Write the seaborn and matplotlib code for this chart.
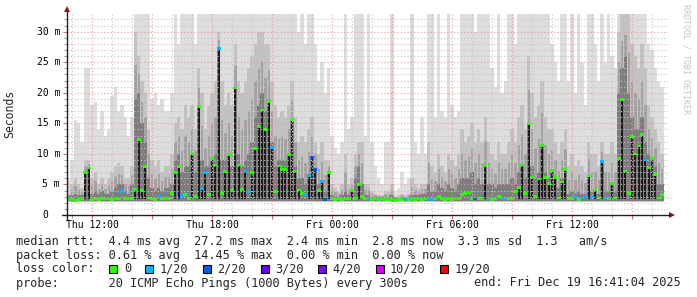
import numpy as np
import pandas as pd
import matplotlib
matplotlib.use("Agg")
import matplotlib.pyplot as plt
from matplotlib.lines import Line2D
from matplotlib.patches import Rectangle, Polygon
from matplotlib.path import Path
import seaborn as sns

# ---------------- data (10-minute samples starting Thu 10:45) ----------------
med = [
    2.5, 2.6, 2.4, 2.5, 2.6, 6.9,
    7.7, 2.5, 2.6, 2.5, 2.7, 2.6,
    2.6, 2.5, 2.7, 2.6, 3.8, 2.7,
    2.6, 2.7, 4.2, 12.4, 4.0, 7.9,
    2.8, 2.6, 2.5, 3.1, 2.6, 2.7,
    2.6, 3.5, 7.0, 7.9, 3.2, 3.4,
    2.7, 10.0, 3.0, 17.7, 4.3, 6.9,
    3.4, 9.3, 8.2, 27.3, 3.5, 7.1,
    9.9, 4.0, 20.8, 8.2, 4.2, 7.2,
    3.9, 7.0, 10.9, 14.5, 17.2, 14.0,
    18.6, 11.0, 3.9, 8.0, 7.5, 7.5,
    9.9, 15.6, 7.2, 4.1, 3.5, 3.3,
    6.5, 9.4, 7.5, 4.0, 5.5, 2.5,
    7.0, 2.6, 2.5, 2.6, 2.5, 2.6,
    2.6, 4.0, 2.7, 5.0, 3.0, 2.6,
    2.6, 2.5, 2.6, 2.5, 2.6, 2.5,
    2.5, 2.6, 2.4, 2.5, 2.5, 2.6,
    2.5, 2.6, 2.5, 2.6, 2.5, 2.6,
    2.6, 2.5, 2.6, 3.0, 2.6, 2.5,
    2.6, 2.5, 2.6, 2.7, 3.4, 3.5,
    3.6, 2.6, 2.6, 2.7, 2.6, 8.1,
    2.6, 2.5, 2.6, 3.0, 2.6, 2.6,
    2.7, 2.6, 3.8, 4.5, 8.2, 3.5,
    14.9, 6.2, 3.0, 5.9, 11.4, 6.1,
    5.1, 7.3, 6.1, 2.8, 5.4, 7.5,
    2.7, 2.6, 3.0, 2.5, 2.8, 3.0,
    6.4, 3.0, 4.1, 2.8, 8.7, 2.8,
    2.6, 5.1, 2.8, 9.2, 18.9, 7.2,
    3.5, 12.9, 10.0, 11.3, 13.2, 9.0,
    7.7, 9.2, 6.6, 2.8, 3.4,
]
smoke_top = [
    6, 9, 15.5, 15, 12, 24,
    24, 18, 18.5, 14, 17, 13,
    14, 19.5, 21, 17, 18, 16,
    13, 16, 33, 33, 33, 33,
    33, 19, 20, 18, 19, 17,
    17, 20, 33, 28, 33, 33,
    33, 33, 28, 33, 33, 33,
    33, 33, 33, 33, 33, 33,
    33, 33, 33, 33, 33, 33,
    33, 33, 33, 33, 33, 33,
    33, 33, 33, 33, 33, 33,
    33, 33, 33, 30, 33, 28,
    33, 33, 28, 22, 25, 20,
    24, 13, 11, 10, 12, 33,
    14, 16, 33, 33, 33, 13,
    33, 12, 8, 6, 5, 12,
    12, 33, 4, 4.5, 7, 5,
    6, 33, 12, 10, 16, 10,
    33, 33, 16, 33, 17, 16,
    33, 18, 16, 17, 33, 33,
    33, 33, 30, 33, 33, 33,
    33, 24, 21, 33, 20, 22,
    33, 33, 28, 33, 33, 33,
    33, 33, 33, 33, 33, 33,
    33, 28, 25, 22, 33, 33,
    22, 33, 20, 33, 25, 18,
    33, 33, 28, 22, 33, 25,
    33, 26, 24, 33, 33, 33,
    33, 33, 33, 33, 33, 33,
    28, 27, 24, 22, 21,
]
smoke_mid = [
    3.5, 5, 6, 5, 4.5, 9,
    9, 6, 7, 5, 6, 5,
    6, 7, 8, 8.5, 8, 6,
    6, 8, 30, 26, 22, 20,
    14, 9, 8, 9, 7, 8,
    8, 10, 15, 16, 14, 18,
    16, 18, 14, 24, 20, 14,
    18, 20, 22, 30, 22, 18,
    20, 18, 28, 22, 20, 22,
    24, 26, 28, 30, 30, 28,
    28, 22, 18, 16, 17, 16,
    18, 22, 16, 12, 13, 12,
    14, 16, 12, 10, 12, 9,
    9, 5, 4.5, 4, 5, 10,
    5, 6, 10, 12, 12, 5,
    5, 4, 3.5, 3.2, 3.2, 4,
    4, 5, 3, 3.2, 3.5, 3.2,
    3.5, 6, 5, 4.5, 5, 5,
    12, 8, 7, 10, 8, 7,
    10, 9, 8, 10, 14, 12,
    13, 15, 12, 14, 12, 16,
    12, 10, 9, 12, 10, 10,
    12, 14, 12, 16, 18, 14,
    26, 20, 16, 18, 22, 16,
    14, 14, 12, 10, 12, 14,
    8, 10, 8, 9, 8, 7,
    12, 10, 10, 8, 12, 10,
    10, 12, 10, 30, 33, 33,
    33, 28, 26, 24, 28, 24,
    18, 16, 14, 12, 10,
]
smoke_dark = [
    3, 3.2, 3.5, 3.3, 3.2, 7,
    7.7, 3.5, 4, 3.5, 4, 3.5,
    3.5, 4, 4.5, 5, 5, 4,
    3.5, 5, 19, 20, 15, 12,
    6, 4.5, 4, 4.5, 4, 4.5,
    4.5, 5, 9, 10, 7, 8,
    8, 10, 7, 17.7, 9, 8,
    8, 9.3, 10, 27.3, 9, 9,
    10, 8, 20.8, 10, 8, 9,
    10, 12, 16, 18, 20, 17,
    19, 12, 8, 9, 9, 9,
    10, 15.6, 8, 6, 6, 5,
    6.5, 9.4, 7.5, 5, 5.5, 4,
    7, 3.2, 3, 3, 3.2, 4,
    3.2, 4, 6, 8, 5, 3.2,
    3.2, 3, 3, 2.9, 2.9, 3,
    3, 3.2, 2.8, 2.8, 2.9, 2.8,
    2.9, 3.2, 3.2, 3.2, 3.5, 3.5,
    5, 4, 4, 5, 4.5, 4,
    5, 4.5, 4, 5, 6, 6,
    6, 7, 5, 6, 5, 8.1,
    5, 5, 4.5, 5, 5, 5,
    5, 6, 5, 7, 8.2, 6,
    14.9, 8, 6, 7, 11.4, 7,
    6, 7.3, 6.1, 4.5, 6, 7.5,
    3.5, 4, 3.5, 4, 3.5, 3.5,
    6.4, 4, 4.1, 3.5, 8.7, 4,
    4, 5.1, 4, 20, 24, 26,
    20, 16, 14, 14, 16, 12,
    10, 9.2, 8, 5, 5,
]
# sample indices with 1/20 and 2/20 packet loss
loss_1_of_20 = [16, 27, 34, 40, 41, 45, 53, 54, 61, 71, 72, 76, 90, 101, 108, 109,
                126, 130, 131, 152, 154, 155, 157, 160, 161, 173]
loss_2_of_20 = [73, 74, 77, 122]
smoke_floor = 2.05
dark_floor = 2.3

x_tick_labels = ["Thu 12:00", "Thu 18:00", "Fri 00:00", "Fri 06:00", "Fri 12:00"]
y_tick_values = [0, 5, 10, 15, 20, 25, 30]
y_tick_labels = ["0", "5 m", "10 m", "15 m", "20 m", "25 m", "30 m"]
legend_labels = ["0", "1/20", "2/20", "3/20", "4/20", "10/20", "19/20"]
legend_colors = ["#26ff00", "#00b8ff", "#0059ff", "#5e00ff", "#7e00ff", "#dd00ff", "#ff0000"]
row_median = "median rtt:  4.4 ms avg  27.2 ms max  2.4 ms min  2.8 ms now  3.3 ms sd  1.3   am/s"
row_loss = "packet loss: 0.61 % avg  14.45 % max  0.00 % min  0.00 % now"
row_probe = "probe:       20 ICMP Echo Pings (1000 Bytes) every 300s"
row_end = "end: Fri Dec 19 16:41:04 2025"

# ---------------- figure ----------------
sns.set_theme(style="white")
plt.rcParams['font.family'] = ['DejaVu Sans Mono']

W, H = 697, 297
fig = plt.figure(figsize=(W / 100, H / 100), dpi=100)
fig.patch.set_facecolor("white")

def fx(px):
    return px / W

def fy(py):
    return 1 - py / H

PX0, PX1, PY0, PY1 = 67, 668, 14, 215
PX_PER_H = 20.0
PX_PER_MS = 6.11
ax = fig.add_axes([fx(PX0), fy(PY1), (PX1 - PX0) / W, (PY1 - PY0) / H])
ax.set_facecolor("white")
xmax = (PX1 - PX0) / PX_PER_H
ymax = (PY1 - PY0) / PX_PER_MS
ax.set_xlim(0, xmax)
ax.set_ylim(0, ymax)
for s in ax.spines.values():
    s.set_visible(False)

n = len(med)
assert len(smoke_top) == n and len(smoke_mid) == n and len(smoke_dark) == n
t = np.arange(n) / 6.0 + 1 / 12.0
w = 1 / 6.0
med_a = np.array(med)
top_a = np.array(smoke_top)
mid_a = np.array(smoke_mid)
dark_a = np.array(smoke_dark)

ax.bar(t, top_a - smoke_floor, width=w, bottom=smoke_floor, color="#dddddd",
       linewidth=0, antialiased=False, zorder=1)
ax.bar(t, mid_a - smoke_floor, width=w, bottom=smoke_floor, color="#c2c2c2",
       linewidth=0, antialiased=False, zorder=1.1)
ax.bar(t, (mid_a + dark_a) / 2 - dark_floor, width=w * 0.7, bottom=dark_floor, color="#a2a2a2",
       linewidth=0, antialiased=False, zorder=1.15)
ax.bar(t, dark_a - dark_floor, width=w, bottom=dark_floor, color="#7e7e7e",
       linewidth=0, antialiased=False, zorder=1.2)
spike = med_a >= 4.0
ax.bar(t[spike], med_a[spike] - 2.6, width=w * 0.65, bottom=2.6, color="#1c1c1c",
       linewidth=0, antialiased=False, zorder=1.3)

# grid (drawn over the smoke, as RRDtool does)
for v in range(1, int(ymax) + 1):
    major = v % 5 == 0
    ax.axhline(v, color="#e89a9a" if major else "#c4c4c4", lw=0.8,
               ls=(0, (1, 2)), zorder=3)
for k in range(0, 31):
    h = 0.25 + k
    if h >= xmax:
        break
    major = (k - 1) % 3 == 0
    ax.axvline(h, color="#e89a9a" if major else "#c4c4c4", lw=0.8,
               ls=(0, (1, 2)), zorder=3)

# median rtt markers coloured by loss
loss_lab = np.array(["0"] * n, dtype=object)
loss_lab[loss_1_of_20] = "1/20"
loss_lab[loss_2_of_20] = "2/20"
df = pd.DataFrame({"t": t, "median": med_a, "loss": loss_lab})
rect = Path([(-1, -0.75), (1, -0.75), (1, 0.75), (-1, 0.75), (-1, -0.75)])
sns.scatterplot(data=df, x="t", y="median", hue="loss",
                palette=dict(zip(legend_labels, legend_colors)),
                marker=rect, s=7.0, linewidth=0, legend=False, ax=ax, zorder=4)
ax.set_xlabel("")
ax.set_ylabel("")

# ticks
ax.set_xticks([1.25 + 3 * k for k in range(10) if 1.25 + 3 * k < xmax])
ax.set_xticks([0.25 + k for k in range(30) if 0.25 + k < xmax], minor=True)
ax.set_yticks(y_tick_values)
ax.set_yticks(range(0, int(ymax) + 1), minor=True)
ax.tick_params(axis="both", which="major", length=3, width=0.8, color="#d07070",
               labelbottom=False, labelleft=False, direction="out", bottom=True, left=True)
ax.tick_params(axis="both", which="minor", length=2, width=0.8, color="#a0a0a0",
               direction="out", bottom=True, left=True)

# axis lines with arrows
axis_col = "#202020"
arrow_col = "#8b1a1a"
fig.add_artist(Line2D([fx(62), fx(670)], [fy(215), fy(215)], color=axis_col, lw=1.0))
fig.add_artist(Line2D([fx(67), fx(67)], [fy(220), fy(11)], color=axis_col, lw=1.0))
fig.add_artist(Polygon([(fx(669), fy(212)), (fx(675), fy(215)), (fx(669), fy(218))],
                       closed=True, color=arrow_col, lw=0))
fig.add_artist(Polygon([(fx(64), fy(12)), (fx(67), fy(6)), (fx(70), fy(12))],
                       closed=True, color=arrow_col, lw=0))

# tick labels
for k, lab in enumerate(x_tick_labels):
    px = PX0 + (1.25 + 6 * k) * PX_PER_H
    fig.text(fx(px), fy(225), lab, ha="center", va="center", fontsize=7, color="#000000")
cw7 = 7 * 100 / 72 * 0.6021
for v, lab in zip(y_tick_values, y_tick_labels):
    py = PY1 - v * PX_PER_MS
    xr = 60 if v != 0 else 60 - 2 * cw7
    fig.text(fx(xr), fy(py), lab, ha="right", va="center", fontsize=7, color="#000000")

fig.text(fx(10), fy(114), "Seconds", rotation=90, ha="center", va="center", fontsize=8.3)
fig.text(fx(686), fy(4), "RRDTOOL / TOBI OETIKER", rotation=270, ha="center", va="top",
         fontsize=6, color="#c4c4c4")

# legend rows
FS = 8.6
cw = FS * 100 / 72 * 0.6021
LX = 16
fig.text(fx(LX), fy(241), row_median, ha="left", va="center", fontsize=FS)
fig.text(fx(LX), fy(255), row_loss, ha="left", va="center", fontsize=FS)
fig.text(fx(LX), fy(269), "loss color:", ha="left", va="center", fontsize=FS)
col = 13
for lab, c in zip(legend_labels, legend_colors):
    bx = LX + col * cw
    fig.add_artist(Rectangle((fx(bx), fy(273)), 8 / W, 8 / H, facecolor=c,
                             edgecolor="black", lw=0.8))
    fig.text(fx(LX + (col + 2) * cw), fy(269), lab, ha="left", va="center", fontsize=FS)
    col += 2 + len(lab) + 2
fig.text(fx(LX), fy(283), row_probe, ha="left", va="center", fontsize=FS)
fig.text(fx(681), fy(283), row_end, ha="right", va="center", fontsize=FS)

fig.savefig("out.png", dpi=100, facecolor="white")
